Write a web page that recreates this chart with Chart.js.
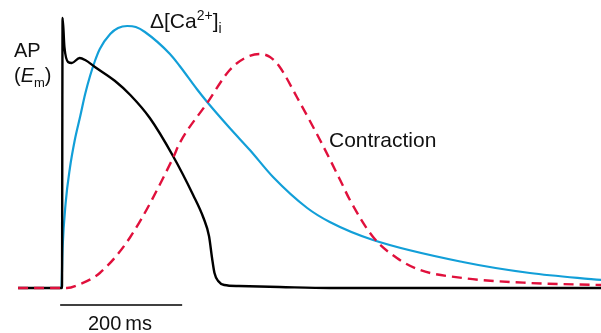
<!DOCTYPE html>
<html>
<head>
<meta charset="utf-8">
<script src="https://cdn.jsdelivr.net/npm/chart.js@4/dist/chart.umd.min.js"></script>
<style>
  body { margin: 0; background: #fff; }
  #wrap { position: relative; width: 601px; height: 333px; }
  .lbl { position: absolute; font-family: "Liberation Sans", Arial, sans-serif; font-size: 20px; line-height: 20px; color: #111; white-space: nowrap; }
  .small { font-size: 13px; position: relative; }
</style>
</head>
<body>
<div id="wrap">
  <canvas id="chart" width="601" height="333"></canvas>
  <div class="lbl" style="left:14px; top:40px;">AP</div>
  <div class="lbl" style="left:14px; top:65px;">(<i>E</i><span class="small" style="top:5px;">m</span>)</div>
  <div class="lbl" style="left:150px; top:11px; font-size:21px;">&Delta;[Ca<span class="small" style="top:-8px; font-size:14px;">2+</span>]<span class="small" style="top:5px; font-size:14px;">i</span></div>
  <div class="lbl" style="left:329px; top:130px; font-size:21px;">Contraction</div>
  <div class="lbl" style="left:88px; top:313px;">200&thinsp;ms</div>
</div>
<script>
// time in ms (stimulus at 0), amplitude in arbitrary units
const apTime  = [-72, 0, 1, 4, 10, 16, 29, 38, 54, 87, 112, 144, 182, 215, 232, 241, 246, 250, 256, 266, 290, 357, 439, 884];
const apValue = [0, 0, 270, 241, 226, 225, 230, 228, 221, 207, 193, 170, 132, 93, 70, 52, 30, 15, 7, 3, 2, 1, 0, 0];

const caTime  = [-72, -1, 1, 6, 13, 21, 30, 38, 46, 54, 62, 79, 92, 107, 121, 136, 177, 193, 221, 238, 275, 308, 346, 402, 439, 510, 657, 767, 884];
const caValue = [0, 0, 40, 85, 120, 148, 172, 194, 212, 227, 239, 254, 260, 262, 261, 256, 234, 222, 199, 186, 160, 138, 111, 80, 66, 48, 26, 15, 8];

const contractionTime  = [-72, 0, 8, 30, 62, 112, 182, 193, 238, 275, 300, 325, 341, 357, 385, 423, 456, 472, 510, 549, 587, 657, 767, 884];
const contractionValue = [0, 0, 0, 4, 15, 51, 130, 145, 185, 218, 230, 234, 231, 221, 191, 148, 108, 88, 51, 30, 18, 10, 5, 3];

const scaleBarTime  = [-3, 197];
const scaleBarValue = [-17, -17];

function pts(xs, ys) {
    return xs.map(function (x, i) { return { x: x, y: ys[i] }; });
}

new Chart(document.getElementById("chart").getContext("2d"), {
    type: 'line',
    data: {
        datasets: [
            {
                label: 'Contraction',
                data: pts(contractionTime, contractionValue),
                borderColor: '#e0103c',
                borderWidth: 2.4,
                borderDash: [10, 6],
                cubicInterpolationMode: 'monotone',
                pointRadius: 0,
                order: 1
            },
            {
                label: 'Ca',
                data: pts(caTime, caValue),
                borderColor: '#129fd8',
                borderWidth: 2.2,
                cubicInterpolationMode: 'monotone',
                pointRadius: 0,
                order: 3
            },
            {
                label: 'AP',
                data: pts(apTime, apValue),
                borderColor: '#000',
                borderWidth: 2.4,
                cubicInterpolationMode: 'monotone',
                pointRadius: 0,
                order: 2
            },
            {
                label: 'scale',
                data: pts(scaleBarTime, scaleBarValue),
                borderColor: '#000',
                borderWidth: 1.6,
                pointRadius: 0,
                order: 4
            }
        ]
    },
    options: {
        responsive: false,
        animation: false,
        devicePixelRatio: 1,
        layout: { padding: 0 },
        plugins: { legend: { display: false }, tooltip: { enabled: false } },
        scales: {
            x: { type: 'linear', min: -101.6, max: 883.6, display: false },
            y: { type: 'linear', min: -45, max: 288, display: false }
        }
    }
});
</script>
</body>
</html>
